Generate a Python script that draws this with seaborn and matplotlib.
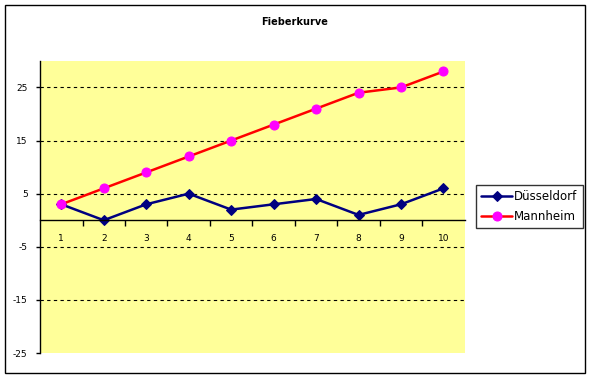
import numpy as np
import pandas as pd
import matplotlib
matplotlib.use("Agg")
import matplotlib.pyplot as plt
import seaborn as sns
from matplotlib.patches import Rectangle
from matplotlib.ticker import FixedLocator, NullFormatter

# Daten
tage = [1, 2, 3, 4, 5, 6, 7, 8, 9, 10]
duesseldorf = [3, 0, 3, 5, 2, 3, 4, 1, 3, 6]
mannheim = [3, 6, 9, 12, 15, 18, 21, 24, 25, 28]
y_ticks = [-25, -15, -5, 5, 15, 25]

sns.set_theme(style="white")
plt.rcParams["font.family"] = ["DejaVu Sans"]
plt.rcParams["text.color"] = "black"
plt.rcParams["xtick.color"] = "black"
plt.rcParams["ytick.color"] = "black"

fig = plt.figure(figsize=(5.89, 3.78), dpi=100)
ax = fig.add_axes([0.068, 0.066, 0.721, 0.773])
ax.set_facecolor("#FFFF99")

sns.lineplot(x=tage, y=duesseldorf, ax=ax, color="#000080", lw=1.8,
             marker="D", markersize=5.5, markerfacecolor="#000080",
             markeredgecolor="#000080", label="Düsseldorf")
sns.lineplot(x=tage, y=mannheim, ax=ax, color="#FF0000", lw=1.8,
             marker="o", markersize=6.5, markerfacecolor="#FF00FF",
             markeredgecolor="#FF00FF", label="Mannheim")

ax.set_xlim(0.5, 10.5)
ax.set_ylim(-25, 30)

# y-Achse
ax.set_yticks(y_ticks)
ax.set_yticklabels([str(v) for v in y_ticks])
ax.tick_params(axis="y", left=True, length=3, width=1, color="black",
               labelcolor="black", labelsize=6.5, pad=6)
ax.yaxis.grid(True, color="black", linestyle=(0, (3, 3)), lw=0.8)
ax.yaxis.get_gridlines()[0].set_visible(False)

# x-Achse bei y=0, Striche zwischen den Kategorien
ax.spines["bottom"].set_position(("data", 0))
ax.spines["bottom"].set_color("black")
ax.spines["bottom"].set_linewidth(1)
ax.xaxis.set_major_locator(FixedLocator([t + 0.5 for t in tage[:-1]]))
ax.xaxis.set_major_formatter(NullFormatter())
ax.xaxis.set_minor_locator(FixedLocator(tage))
ax.set_xticklabels([str(t) for t in tage], minor=True)
ax.tick_params(axis="x", which="major", bottom=True, length=4, width=1,
               color="black", direction="out")
ax.tick_params(axis="x", which="minor", bottom=True, length=0,
               labelcolor="black", labelsize=6.5, pad=10)

ax.spines["left"].set_color("black")
ax.spines["left"].set_linewidth(1)
ax.spines["top"].set_visible(False)
ax.spines["right"].set_visible(False)
ax.set_xlabel("")
ax.set_ylabel("")

ax.get_legend().remove()
handles, labels = ax.get_legend_handles_labels()
leg = fig.legend(handles, labels, loc="upper left",
                 bbox_to_anchor=(0.808, 0.511), fontsize=8.5,
                 frameon=True, fancybox=False, edgecolor="black",
                 handlelength=2.6, handletextpad=0.2, borderpad=0.45,
                 labelspacing=0.55, borderaxespad=0)
leg.get_frame().set_linewidth(1)
for t in leg.get_texts():
    t.set_color("black")

fig.text(0.5, 0.942, "Fieberkurve", ha="center", va="center",
         fontsize=7, fontweight="bold", color="black")

fig.add_artist(Rectangle((0.009, 0.013), 0.984, 0.974,
                         transform=fig.transFigure, fill=False,
                         edgecolor="black", lw=1))

plt.savefig("out.png", dpi=100)
